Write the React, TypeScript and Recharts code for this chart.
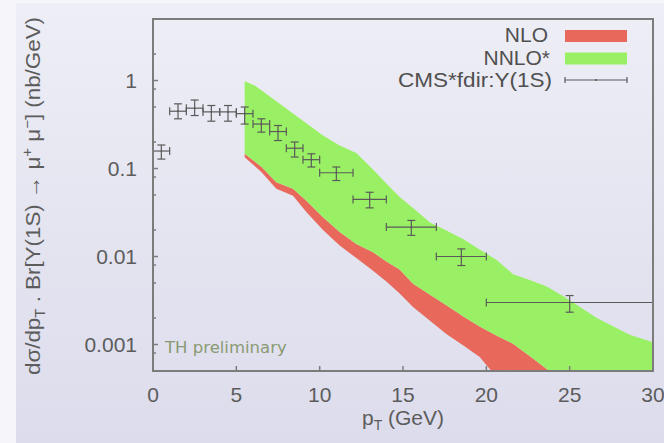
import React from 'react';
import { ComposedChart, Area, Scatter, ErrorBar, XAxis, YAxis } from 'recharts';

// ---- theory bands (pT grid shared by both bands) ----
const bandPt = [5.5, 6.1, 6.5, 7.4, 8.4, 9.2, 10.2, 11.2, 12.2, 13.2, 14, 14.8, 15.6, 16.6, 17.6, 18.6, 19.6, 20.6, 21.6, 22.6, 23.6, 24.6, 25.6, 26.6, 27.6, 28.6, 30];
const nnloHigh = [0.98, 0.88, 0.774, 0.581, 0.422, 0.327, 0.237, 0.183, 0.15, 0.0977, 0.0676, 0.0476, 0.0355, 0.0245, 0.0197, 0.0158, 0.012, 0.0092, 0.0063, 0.0054, 0.00458, 0.00356, 0.00268, 0.00201, 0.00161, 0.00129, 0.00106];
const nnloLow = [0.147, 0.12, 0.105, 0.07, 0.059, 0.043, 0.028, 0.019, 0.0139, 0.0112, 0.0088, 0.0071, 0.0049, 0.0037, 0.0028, 0.0021, 0.0016, 0.00127, 0.00102, 0.00074, 0.00053, 0.00038, 0.000275, 0.0002, 0.000145, 0.000105, 0.000065];
const nloLow = [0.134, 0.107, 0.091, 0.059, 0.049, 0.032, 0.02, 0.0133, 0.0096, 0.0069, 0.0052, 0.0038, 0.00266, 0.00187, 0.00132, 0.00098, 0.00072, 0.00043, 0.0003, 0.00021, 0.00015, 0.0001, 0.00007, 0.00005, 0.000035, 0.000025, 0.00002];
const nloHigh = nnloLow;

// ---- CMS data ----
const cmsPt = [0.5, 1.5, 2.5, 3.5, 4.5, 5.5, 6.5, 7.5, 8.5, 9.5, 11, 13, 15.5, 18.5, 25];
const cmsPtLow = [0, 1, 2, 3, 4, 5, 6, 7, 8, 9, 10, 12, 14, 17, 20];
const cmsPtHigh = [1, 2, 3, 4, 5, 6, 7, 8, 9, 10, 12, 14, 17, 20, 30];
const cmsY = [0.158, 0.448, 0.485, 0.44, 0.44, 0.42, 0.32, 0.263, 0.17, 0.126, 0.0895, 0.0445, 0.0216, 0.01, 0.003];
const cmsYLow = [0.128, 0.367, 0.4, 0.345, 0.345, 0.32, 0.259, 0.208, 0.135, 0.104, 0.073, 0.0357, 0.0174, 0.0079, 0.00233];
const cmsYHigh = [0.185, 0.543, 0.6, 0.52, 0.52, 0.5, 0.367, 0.308, 0.2, 0.147, 0.104, 0.0537, 0.0257, 0.0122, 0.0036];

// ---- axis ticks ----
const xTicks = [0, 5, 10, 15, 20, 25, 30];
const yMajor = [0.001, 0.01, 0.1, 1];
const yMinor = [0.0008, 0.002, 0.005, 0.008, 0.02, 0.05, 0.08, 0.2, 0.5, 0.8, 2];
const yTickLabels: Record<string, string> = { '0.001': '0.001', '0.01': '0.01', '0.1': '0.1', '1': '1' };
const legendLabels = ['NLO', 'NNLO*', 'CMS*fdir:Y(1S)'];

const nloData = bandPt.map((x, i) => ({ x, r: [nloLow[i], nloHigh[i]] }));
const nnloData = bandPt.map((x, i) => ({ x, r: [nnloLow[i], nnloHigh[i]] }));
const cmsData = cmsPt.map((x, i) => ({
  x,
  y: cmsY[i],
  ex: [x - cmsPtLow[i], cmsPtHigh[i] - x],
  ey: [cmsY[i] - cmsYLow[i], cmsYHigh[i] - cmsY[i]],
}));

const FONT = '"Liberation Sans", Arial, Helvetica, sans-serif';
const AXIS = '#7c7c7c';
const TXT = '#5c5c5c';
const RED = '#e8695c';
const GREEN = '#9af064';
const yTicksAll = [...yMajor, ...yMinor].sort((a, b) => a - b);

const BottomTick = (p: any) => (
  <g>
    <line x1={p.x} x2={p.x} y1={p.y} y2={p.y - 5} stroke={AXIS} strokeWidth={1.5} />
    <text x={p.x} y={p.y + 31} textAnchor="middle" fontSize={21} fill={TXT} fontFamily={FONT}>
      {p.payload.value}
    </text>
  </g>
);
const TopTick = (p: any) => (
  <line x1={p.x} x2={p.x} y1={p.y} y2={p.y + 5} stroke={AXIS} strokeWidth={1.5} />
);
const LeftTick = (p: any) => {
  const v = p.payload.value;
  const major = yMajor.includes(v);
  return (
    <g>
      <line x1={p.x} x2={p.x + (major ? 5 : 3)} y1={p.y} y2={p.y} stroke={AXIS} strokeWidth={1.5} />
      {major && (
        <text x={p.x - 16} y={p.y + 7.5} textAnchor="end" fontSize={21} fill={TXT} fontFamily={FONT}>
          {yTickLabels[String(v)]}
        </text>
      )}
    </g>
  );
};
const RightTick = (p: any) => {
  const v = p.payload.value;
  const major = yMajor.includes(v);
  return <line x1={p.x} x2={p.x - (major ? 5 : 3)} y1={p.y} y2={p.y} stroke={AXIS} strokeWidth={1.5} />;
};

const Dot = (p: any) => <circle cx={p.cx} cy={p.cy} r={0.8} fill="#555" />;

export default function App() {
  return (
    <div style={{ position: 'absolute', left: 0, top: 0, width: 664, height: 443, background: '#f6f6fa', overflow: 'hidden' }}>
      <div style={{ position: 'absolute', left: 16, top: 3, right: 0, bottom: 0, background: 'linear-gradient(to bottom, #eeeef6, #dcdcec)' }} />
      <div style={{ position: 'absolute', left: 0, top: 0 }}>
        <ComposedChart width={664} height={443} margin={{ top: 19, right: 11, bottom: 0, left: 0 }} style={{ fontFamily: FONT }}>
          <XAxis dataKey="x" type="number" domain={[0, 30]} ticks={xTicks} height={72} tickSize={0} tickMargin={0}
            tickLine={false} axisLine={false} tick={<BottomTick />} allowDataOverflow />
          <XAxis xAxisId="top" orientation="top" dataKey="x" type="number" domain={[0, 30]} ticks={xTicks} height={0}
            tickSize={0} tickMargin={0} tickLine={false} axisLine={false} tick={<TopTick />} />
          <YAxis type="number" scale="log" domain={[0.0005, 5]} ticks={yTicksAll} width={153} tickSize={0} tickMargin={0}
            tickLine={false} axisLine={false} tick={<LeftTick />} allowDataOverflow interval={0} />
          <YAxis yAxisId="right" orientation="right" type="number" scale="log" domain={[0.0005, 5]} ticks={yTicksAll} width={0}
            tickSize={0} tickMargin={0} tickLine={false} axisLine={false} tick={<RightTick />}
            allowDataOverflow interval={0} />
          <Area data={nloData} dataKey="r" type="linear" fill={RED} fillOpacity={1} stroke="none" isAnimationActive={false} />
          <Area data={nnloData} dataKey="r" type="linear" fill={GREEN} fillOpacity={1} stroke="none" isAnimationActive={false} />
          <Scatter data={cmsData} dataKey="y" shape={<Dot />} isAnimationActive={false}>
            <ErrorBar dataKey="ex" direction="x" stroke="#5a5a5a" strokeWidth={1.2} width={4} isAnimationActive={false} />
            <ErrorBar dataKey="ey" direction="y" stroke="#5a5a5a" strokeWidth={1.2} width={4} isAnimationActive={false} />
          </Scatter>
        </ComposedChart>
      </div>
      <svg width={664} height={443} style={{ position: 'absolute', left: 0, top: 0, pointerEvents: 'none' }} fontFamily={FONT}>
        <rect x={153} y={19} width={500} height={352} fill="none" stroke={AXIS} strokeWidth={2} />
        <text x={548} y={42} textAnchor="end" fontSize={21} fill="#505050">{legendLabels[0]}</text>
        <rect x={565} y={30} width={62} height={12} fill={RED} />
        <text x={550} y={65} textAnchor="end" fontSize={21} fill="#505050">{legendLabels[1]}</text>
        <rect x={565} y={52.5} width={62} height={12} fill={GREEN} />
        <text x={552} y={87} textAnchor="end" fontSize={21} fill="#505050" textLength={154} lengthAdjust="spacingAndGlyphs">{legendLabels[2]}</text>
        <line x1={565} x2={627} y1={80} y2={80} stroke="#5a5a5a" strokeWidth={1.2} />
        <line x1={565} x2={565} y1={77} y2={83} stroke="#5a5a5a" strokeWidth={1.2} />
        <line x1={627} x2={627} y1={77} y2={83} stroke="#5a5a5a" strokeWidth={1.2} />
        <circle cx={596} cy={80} r={1} fill="#5a5a5a" />
        <text x={165} y={353} fontSize={16.5} fill="#8a9a72" fontFamily='"DejaVu Sans", sans-serif'>TH preliminary</text>
        <text x={403} y={425} textAnchor="middle" fontSize={21} fill={TXT}>
          p<tspan dy={5} fontSize={14}>T</tspan><tspan dy={-5}> (GeV)</tspan>
        </text>
        <text transform="translate(40,196) rotate(-90)" textAnchor="middle" fontSize={21} fill={TXT} textLength={358} lengthAdjust="spacingAndGlyphs">
          dσ/dp<tspan dy={5} fontSize={14}>T</tspan><tspan dy={-5}> . Br[Υ(1S) → μ</tspan><tspan dy={-8} fontSize={14}>+</tspan><tspan dy={8}> μ</tspan><tspan dy={-8} fontSize={14}>−</tspan><tspan dy={8}>] (nb/GeV)</tspan>
        </text>
      </svg>
    </div>
  );
}
